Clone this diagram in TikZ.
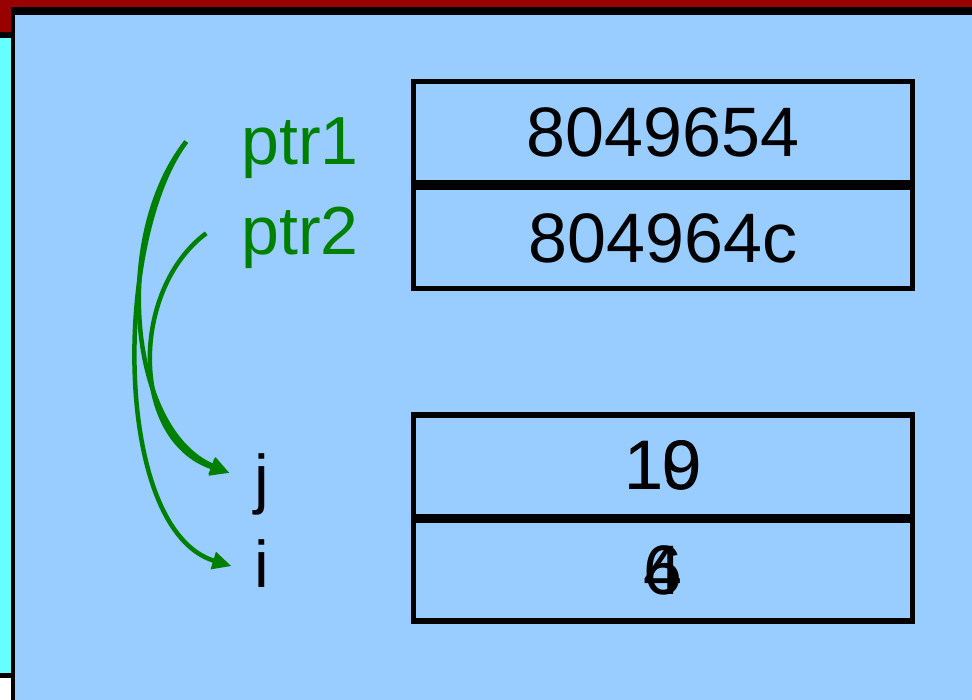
\documentclass[tikz,border=0pt]{standalone}
\usepackage{fontspec}
\setmainfont{Liberation Sans}
\usetikzlibrary{arrows.meta}
\definecolor{slideblue}{HTML}{99CCFF}
\definecolor{sidecyan}{HTML}{66FFFF}
\definecolor{titlered}{HTML}{990000}
\definecolor{ptrgreen}{HTML}{008000}
\tikzset{
  cell/.style={draw=black, line width=5.5pt, inner sep=0pt, minimum width=499pt, minimum height=101pt,
    font=\fontsize{70}{74}\selectfont},
  ptrlabel/.style={text=ptrgreen, inner sep=0pt, anchor=base, font=\fontsize{68}{70}\selectfont},
  varlabel/.style={text=black, inner sep=0pt, anchor=base, font=\fontsize{66}{70}\selectfont},
  ptrarrow/.style={draw=ptrgreen, line width=4.5pt, -{Triangle[length=19pt,width=17pt]}}
}
\begin{document}
\begin{tikzpicture}[x=1pt,y=-1pt]
\useasboundingbox (0,0) rectangle (972,700);
% background frame
\fill[white] (0,0) rectangle (972,700);
\fill[titlered] (0,0) rectangle (972,32);
\fill[black] (0,32) rectangle (11,38);
\fill[sidecyan] (0,38) rectangle (11,673);
\fill[black] (0,673) rectangle (11,678);
\fill[black] (11,7.5) rectangle (972,700);
\fill[slideblue] (15,15) rectangle (972,700);
% memory cells
\node[cell] (c1) at (663,132.25) {8049654};
\node[cell] (c2) at (663,238.25) {804964c};
\node[cell] (cj) at (663,465.75) {\makebox[0pt][c]{19}\makebox[0pt][c]{10}};
\node[cell] (ci) at (663,570.5) {\makebox[0pt][c]{4}\makebox[0pt][c]{6}};
% labels
\node[ptrlabel] (p1) at (300,165) {ptr1};
\node[ptrlabel] (p2) at (300,255) {ptr2};
\node[varlabel] (j) at (262,501) {j};
\node[varlabel] (i) at (262,587) {i};
% arrows
\draw[ptrarrow] ([xshift=-55pt,yshift=7pt]p1.west) .. controls (113,240) and (113,530) .. ([xshift=-23pt,yshift=-3pt]i.west);
\draw[ptrarrow] ([xshift=-55pt,yshift=7pt]p1.west) .. controls (112,235) and (128,430) .. ([xshift=-25pt,yshift=11pt]j.west);
\draw[ptrarrow] ([xshift=-35pt,yshift=5pt]p2.west) .. controls (130,290) and (130,440) .. ([xshift=-25pt,yshift=11pt]j.west);
\end{tikzpicture}
\end{document}
